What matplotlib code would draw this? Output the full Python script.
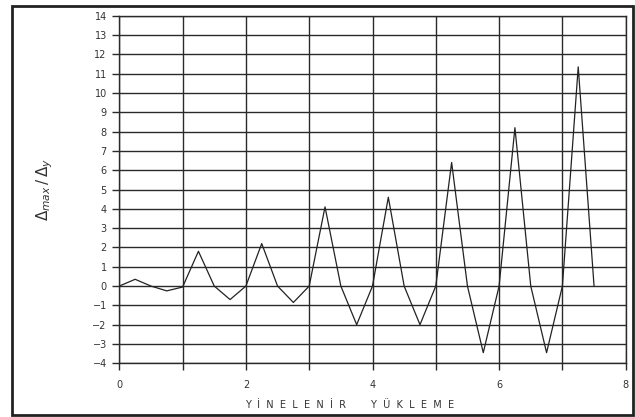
import matplotlib.pyplot as plt
from matplotlib.patches import Rectangle

# cevrim numarasi (x) ve oran degerleri (y)
cycles = [0, 0.25, 0.5, 0.75, 1.0, 1.25, 1.5, 1.75, 2.0, 2.25, 2.5, 2.75,
          3.0, 3.25, 3.5, 3.75, 4.0, 4.25, 4.5, 4.75, 5.0, 5.25, 5.5, 5.75,
          6.0, 6.25, 6.5, 6.75, 7.0, 7.25, 7.5]
ratio = [0, 0.35, 0, -0.25, -0.05, 1.8, 0, -0.7, 0, 2.2, 0, -0.85,
         0, 4.1, 0, -2.0, 0, 4.6, 0, -2.0, 0, 6.4, 0, -3.45,
         0, 8.2, 0, -3.45, 0, 11.35, 0]
x_labels = ['0', '', '2', '', '4', '', '6', '', '8']
y_ticks = list(range(-4, 15))

plt.rcParams['font.family'] = ['DejaVu Sans']

fig = plt.figure(figsize=(6.35, 4.17), dpi=100)
ax = fig.add_axes([119.3 / 635, 1 - 363.3 / 417, (625.7 - 119.3) / 635, (363.3 - 15.7) / 417])

ax.plot(cycles, ratio, color='#222222', lw=0.9, zorder=3)

ax.set_xlim(0, 8)
ax.set_ylim(-4, 14)
ax.set_xticks(range(0, 9))
ax.set_xticklabels(x_labels)
ax.set_yticks(y_ticks)
ax.set_yticklabels([str(v).replace('-', '\u2212') for v in y_ticks])
ax.grid(True, color='#2a2a2a', lw=1.0)
ax.tick_params(direction='out', length=5, width=1.0, color='#2a2a2a',
               labelsize=7, labelcolor='#333333', pad=4)
ax.tick_params(axis='x', pad=7)
for s in ax.spines.values():
    s.set_color('#2a2a2a')
    s.set_linewidth(1.0)

ax.set_ylabel(r'$\Delta_{max}\,/\,\Delta_y$', fontsize=11, color='#333333', labelpad=27)

xlab = '  '.join('YİNELENİR') + '        ' + '  '.join('YÜKLEME')
fig.text(350 / 635, 1 - 405 / 417, xlab,
         fontsize=7, color='#333333', ha='center', va='center')

# dis cerceve
fig.patches.append(Rectangle((12 / 635, 1 - 415 / 417), (633 - 12) / 635, (415 - 6) / 417,
                             transform=fig.transFigure, fill=False,
                             edgecolor='#222222', lw=2))

fig.savefig('out.png', dpi=100)
